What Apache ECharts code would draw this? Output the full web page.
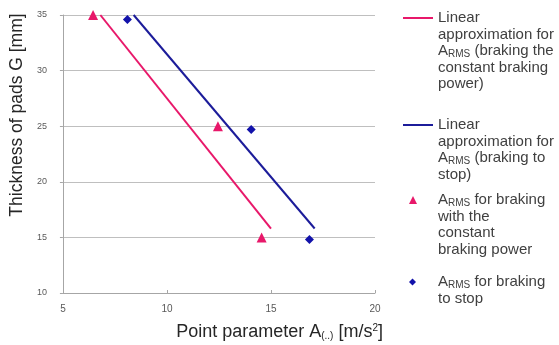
<!DOCTYPE html>
<html>
<head>
<meta charset="utf-8">
<script src="https://cdn.jsdelivr.net/npm/echarts@6/dist/echarts.min.js"></script>
<style>
  html, body { margin: 0; padding: 0; background: #fff; }
  #chart { width: 559px; height: 345px; }
</style>
</head>
<body>
<div id="chart"></div>
<script>
// Measured A_RMS points (x = point parameter, y = pad thickness)
const constantPowerPoints = [[6.45, 35], [12.45, 25], [14.55, 15]];
const stopPoints = [[8.1, 34.6], [14.05, 24.7], [16.85, 14.8]];

// Linear approximations drawn between two end points
const constantPowerFit = [[6.8, 35], [15.0, 15.8]];
const stopFit = [[8.4, 35], [17.1, 15.8]];

// Axis ranges and ticks
const xTicks = [5, 10, 15, 20];
const yTicks = [10, 15, 20, 25, 30, 35];

// Legend names
const names = {
  fitPower: 'Linear\napproximation for\nA{sub|RMS} (braking the\nconstant braking\npower)',
  fitStop: 'Linear\napproximation for\nA{sub|RMS} (braking to\nstop)',
  ptsPower: 'A{sub|RMS} for braking\nwith the\nconstant\nbraking power',
  ptsStop: 'A{sub|RMS} for braking\nto stop'
};

const PINK = '#E8186A';
const BLUE = '#1C1C9A';
const LH = 16.5;
const FONT = 'Liberation Sans, Arial, sans-serif';
const TEXT = '#404040';

// One legend block per entry so the marker lines up with the first text line
function legendFor(name, lines, iconY, isLine, size) {
  const blockHalf = (2 * lines - 1) * LH / 2;
  const w = isLine ? 30 : size;
  const shift = isLine ? 0 : 24 - size;
  return {
    data: [isLine ? { name: name, icon: 'rect' } : { name: name }],
    orient: 'vertical',
    left: isLine ? 403 : 438 - 5 - w - shift,
    top: iconY - blockHalf,
    padding: 0,
    itemWidth: w,
    itemHeight: isLine ? 2 : size,
    selectedMode: false,
    textStyle: {
      fontFamily: FONT,
      fontSize: 15,
      color: TEXT,
      lineHeight: LH,
      padding: [(lines - 1) * LH, 0, 0, shift],
      rich: {
        sub: { fontSize: 10, fontFamily: FONT, color: TEXT, verticalAlign: 'bottom', lineHeight: 13 }
      }
    }
  };
}

const chart = echarts.init(document.getElementById('chart'), null, { renderer: 'canvas' });
chart.setOption({
  animation: false,
  backgroundColor: '#fff',
  grid: { left: 60, right: 184, top: 15, bottom: 52 },
  legend: [
    legendFor(names.fitPower, 5, 18, true),
    legendFor(names.fitStop, 4, 125, true),
    legendFor(names.ptsPower, 4, 200, false, 8),
    legendFor(names.ptsStop, 2, 282, false, 7)
  ],
  xAxis: {
    type: 'value',
    min: xTicks[0],
    max: xTicks[xTicks.length - 1],
    interval: 5,
    name: 'Point parameter A{sub|(..)} [m/s{sup|2}]',
    nameLocation: 'end',
    nameGap: 8,
    nameTextStyle: {
      fontFamily: FONT, fontSize: 18, color: '#262626',
      align: 'right', verticalAlign: 'top', padding: [30, 0, 0, 0],
      rich: {
        sub: { fontSize: 10, fontFamily: FONT, color: '#262626', verticalAlign: 'bottom', lineHeight: 15 },
        sup: { fontSize: 10, fontFamily: FONT, color: '#262626', verticalAlign: 'top', lineHeight: 15 }
      }
    },
    axisLine: { lineStyle: { color: '#a6a6a6', width: 1 } },
    axisTick: { show: true, inside: true, length: 3, lineStyle: { color: '#a6a6a6' } },
    axisLabel: { fontFamily: FONT, fontSize: 10, color: '#595959', margin: 11 },
    splitLine: { show: false }
  },
  yAxis: {
    type: 'value',
    min: yTicks[0],
    max: yTicks[yTicks.length - 1],
    interval: 5,
    name: 'Thickness of pads G [mm]',
    nameLocation: 'middle',
    nameGap: 34,
    nameRotate: 90,
    nameTextStyle: {
      fontFamily: FONT, fontSize: 17.5, color: '#262626',
      padding: [0, 0, 0, 78]
    },
    axisLine: { show: true, lineStyle: { color: '#a6a6a6', width: 1 } },
    axisTick: { show: true, length: 3, lineStyle: { color: '#a6a6a6' } },
    axisLabel: { fontFamily: FONT, fontSize: 9, color: '#595959', margin: 16 },
    splitLine: { show: true, lineStyle: { color: '#bfbfbf', width: 1 } }
  },
  series: [
    {
      name: names.fitPower, type: 'line', data: constantPowerFit,
      symbol: 'none', lineStyle: { color: PINK, width: 2 }, itemStyle: { color: PINK }
    },
    {
      name: names.fitStop, type: 'line', data: stopFit,
      symbol: 'none', lineStyle: { color: BLUE, width: 2 }, itemStyle: { color: BLUE }
    },
    {
      name: names.ptsPower, type: 'scatter', data: constantPowerPoints,
      symbol: 'triangle', symbolSize: 10, itemStyle: { color: PINK, opacity: 1 }
    },
    {
      name: names.ptsStop, type: 'scatter', data: stopPoints,
      symbol: 'diamond', symbolSize: 9, itemStyle: { color: '#1212AA', opacity: 1 }
    }
  ]
});
</script>
</body>
</html>
